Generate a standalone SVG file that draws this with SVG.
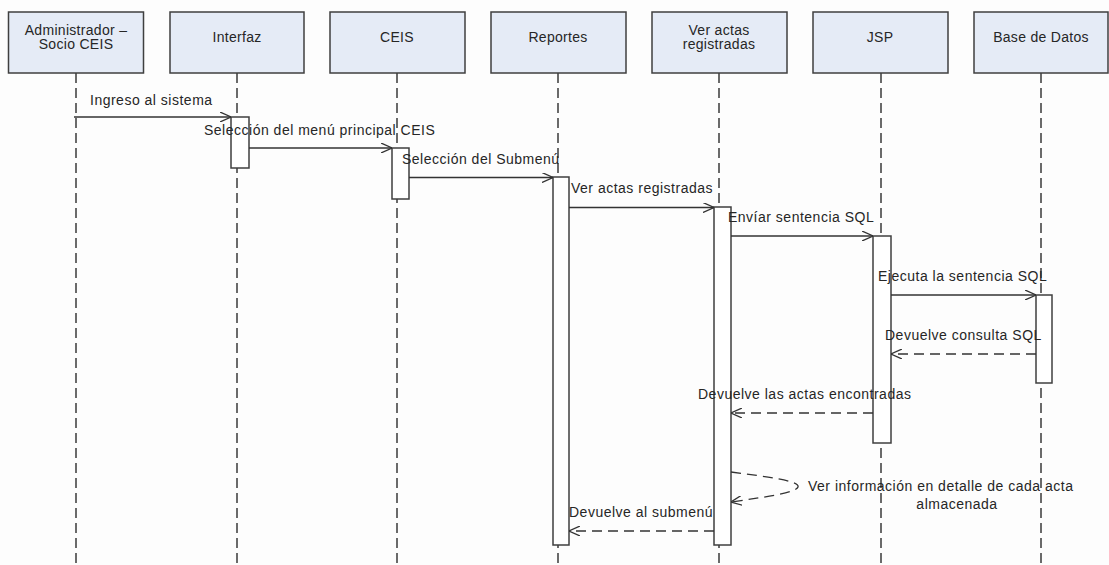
<svg xmlns="http://www.w3.org/2000/svg" width="1109" height="565" viewBox="0 0 1109 565">
<style>
.hdr{fill:#e5ebf6;stroke:#3f3f3f;stroke-width:1.5}
.ht{font-family:"Liberation Sans",Arial,sans-serif;font-size:14px;fill:#262626;text-anchor:middle;letter-spacing:0.3px}
.life{stroke:#3a3a3a;stroke-width:1.5;stroke-dasharray:10 5;fill:none}
.act{fill:#ffffff;stroke:#3f3f3f;stroke-width:1.5}
.msg{stroke:#333;stroke-width:1.3;fill:none;marker-end:url(#arr)}
.ret{stroke:#333;stroke-width:1.3;fill:none;stroke-dasharray:10 6;marker-end:url(#arr)}
.lt{font-family:"Liberation Sans",Arial,sans-serif;font-size:14px;fill:#262626;letter-spacing:0.5px}
</style>
<defs>
<marker id="arr" viewBox="0 0 11 10" refX="11" refY="5" markerWidth="11" markerHeight="10" orient="auto" markerUnits="userSpaceOnUse"><path d="M0,0 L11,5 L0,10" fill="none" stroke="#333" stroke-width="1.3"/></marker>
</defs>
<rect width="1109" height="565" fill="#fdfdfd"/>
<g id="lifelines">
<line class="life" x1="76" y1="73" x2="76" y2="563"/>
<line class="life" x1="237" y1="73" x2="237" y2="563"/>
<line class="life" x1="397" y1="73" x2="397" y2="563"/>
<line class="life" x1="558" y1="73" x2="558" y2="563"/>
<line class="life" x1="719" y1="73" x2="719" y2="563"/>
<line class="life" x1="881" y1="73" x2="881" y2="563"/>
<line class="life" x1="1041" y1="73" x2="1041" y2="563"/>
</g>
<g id="n-admin"><rect class="hdr" x="8.5" y="12" width="135" height="61"/><text class="ht" x="76" y="35">Administrador –</text><text class="ht" x="76" y="49">Socio CEIS</text></g>
<g id="n-interfaz"><rect class="hdr" x="170" y="12" width="134" height="61"/><text class="ht" x="237" y="42">Interfaz</text></g>
<g id="n-ceis"><rect class="hdr" x="330" y="12" width="135" height="61"/><text class="ht" x="397" y="42">CEIS</text></g>
<g id="n-reportes"><rect class="hdr" x="491" y="12" width="135" height="61"/><text class="ht" x="558" y="42">Reportes</text></g>
<g id="n-veractas"><rect class="hdr" x="652" y="12" width="135" height="61"/><text class="ht" x="719" y="35">Ver actas</text><text class="ht" x="719" y="49">registradas</text></g>
<g id="n-jsp"><rect class="hdr" x="813" y="12" width="135" height="61"/><text class="ht" x="880" y="42">JSP</text></g>
<g id="n-bd"><rect class="hdr" x="974" y="12" width="134" height="61"/><text class="ht" x="1041" y="42">Base de Datos</text></g>
<g id="activations">
<rect class="act" x="231" y="117" width="18" height="51"/>
<rect class="act" x="392" y="148" width="17" height="51"/>
<rect class="act" x="553" y="177" width="16" height="368"/>
<rect class="act" x="714" y="207" width="17" height="338"/>
<rect class="act" x="873" y="236" width="18" height="207"/>
<rect class="act" x="1036" y="295" width="16" height="88"/>
</g>
<g id="connectors">
<line class="msg" x1="74" y1="117" x2="231" y2="117"/>
<line class="msg" x1="249" y1="148" x2="392" y2="148"/>
<line class="msg" x1="409" y1="177.5" x2="553" y2="177.5"/>
<line class="msg" x1="569" y1="207.5" x2="714" y2="207.5"/>
<line class="msg" x1="731" y1="236" x2="873" y2="236"/>
<line class="msg" x1="891" y1="295" x2="1036" y2="295"/>
<line class="ret" x1="1036" y1="354" x2="891" y2="354"/>
<line class="ret" x1="873" y1="413" x2="731" y2="413"/>
<path class="ret" d="M731,472 C770,477 800,481 798,487 C796,493 765,497 731,502"/>
<line class="ret" x1="714" y1="531" x2="569" y2="531"/>
</g>
<g id="labels">
<text class="lt" x="90" y="105">Ingreso al sistema</text>
<text class="lt" x="204" y="135">Selección del menú principal CEIS</text>
<text class="lt" x="402" y="164">Selección del Submenú</text>
<text class="lt" x="571" y="193">Ver actas registradas</text>
<text class="lt" x="728" y="222">Envíar sentencia SQL</text>
<text class="lt" x="878" y="281">Ejecuta la sentencia SQL</text>
<text class="lt" x="885" y="340">Devuelve consulta SQL</text>
<text class="lt" x="698" y="399">Devuelve las actas encontradas</text>
<text class="lt" x="808" y="491">Ver información en detalle de cada acta</text>
<text class="lt" x="957" y="509" text-anchor="middle">almacenada</text>
<text class="lt" x="569" y="517">Devuelve al submenú</text>
</g>
</svg>
